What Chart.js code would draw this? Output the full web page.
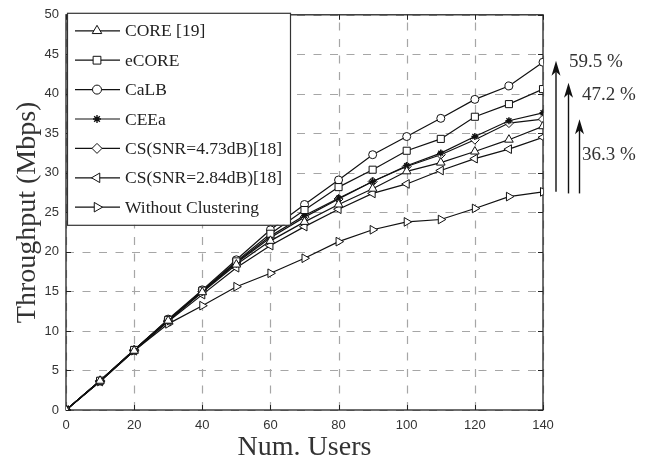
<!DOCTYPE html>
<html><head><meta charset="utf-8">
<script src="https://cdn.jsdelivr.net/npm/chart.js@4.4.0/dist/chart.umd.min.js"></script>
<style>html,body{margin:0;padding:0;background:#fff;}canvas{display:block;}</style>
</head><body>
<canvas id="c" width="653" height="462"></canvas>
<script>
// ---- data ----
const users = [0, 10, 20, 30, 40, 50, 60, 70, 80, 90, 100, 110, 120, 130, 140];
const coreRef    = [0, 3.7, 7.5, 11.3, 14.9, 18.4, 21.4, 23.8, 26.0, 28.0, 30.2, 31.3, 32.7, 34.2, 35.9];
const eCore      = [0, 3.7, 7.6, 11.4, 15.1, 18.8, 22.3, 25.3, 28.2, 30.4, 32.8, 34.3, 37.1, 38.7, 40.6];
const caLB       = [0, 3.7, 7.6, 11.5, 15.2, 19.0, 22.8, 26.0, 29.1, 32.3, 34.6, 36.9, 39.3, 41.0, 44.0];
const ceea       = [0, 3.7, 7.6, 11.4, 15.0, 18.7, 22.0, 24.6, 26.8, 28.9, 30.9, 32.5, 34.6, 36.6, 37.6];
const cs473      = [0, 3.7, 7.6, 11.3, 15.0, 18.6, 21.8, 24.4, 26.7, 28.9, 30.8, 32.3, 34.2, 36.3, 36.8];
const cs284      = [0, 3.6, 7.5, 11.2, 14.6, 18.0, 20.8, 23.2, 25.4, 27.4, 28.6, 30.3, 31.8, 33.0, 34.5];
const noCluster  = [0, 3.6, 7.5, 10.9, 13.2, 15.6, 17.3, 19.2, 21.3, 22.8, 23.8, 24.1, 25.5, 27.0, 27.6];
const seriesLabels = ['CORE [19]', 'eCORE', 'CaLB', 'CEEa', 'CS(SNR=4.73dB)[18]', 'CS(SNR=2.84dB)[18]', 'Without Clustering'];
const xTickValues = [0, 20, 40, 60, 80, 100, 120, 140];
const yTickValues = [0, 5, 10, 15, 20, 25, 30, 35, 40, 45, 50];
const gainLabels = ['59.5 %', '47.2 %', '36.3 %'];
const gainArrowTop = [44.2, 41.4, 36.8];
const gainArrowBase = [27.6, 27.4, 27.4];
const gainTextAt = [44.0, 39.9, 32.3];

// ---- styles ----
const markerStyles = [
  {pointStyle: 'triangle', radius: 5, rotation: 0},
  {pointStyle: 'rect', radius: 5, rotation: 0},
  {pointStyle: 'circle', radius: 4, rotation: 0},
  {pointStyle: 'star', radius: 3.5, rotation: 0, fill: '#111'},
  {pointStyle: 'rectRot', radius: 4.5, rotation: 0},
  {pointStyle: 'triangle', radius: 5, rotation: -90},
  {pointStyle: 'triangle', radius: 5, rotation: 90}
];
const seriesValues = [coreRef, eCore, caLB, ceea, cs473, cs284, noCluster];

const datasets = seriesValues.map((vals, i) => ({
  label: seriesLabels[i],
  data: users.map((u, k) => ({x: u, y: vals[k]})),
  borderColor: '#111',
  borderWidth: 1.2,
  pointStyle: markerStyles[i].pointStyle,
  pointRadius: markerStyles[i].radius,
  pointRotation: markerStyles[i].rotation,
  pointBackgroundColor: markerStyles[i].fill || '#fff',
  pointBorderColor: '#111',
  pointBorderWidth: markerStyles[i].pointStyle === 'star' ? 1.4 : 1,
  tension: 0,
  fill: false
}));

const serif = '"Liberation Serif", "DejaVu Serif", serif';
const sans = '"Liberation Sans", Arial, sans-serif';

const framePlugin = {
  id: 'frame',
  beforeDatasetsDraw(chart) {
    const {ctx, chartArea: a, scales} = chart;
    ctx.save();
    // dashed grid
    ctx.strokeStyle = '#a6a6a6';
    ctx.lineWidth = 1.2;
    ctx.setLineDash([8, 8.5]);
    scales.y.ticks.forEach(t => {
      const py = Math.round(scales.y.getPixelForValue(t.value)) + 0.5;
      ctx.beginPath(); ctx.moveTo(a.left, py); ctx.lineTo(a.right, py); ctx.stroke();
    });
    scales.x.ticks.forEach(t => {
      const px = Math.round(scales.x.getPixelForValue(t.value)) + 0.5;
      ctx.beginPath(); ctx.moveTo(px, a.bottom); ctx.lineTo(px, a.top); ctx.stroke();
    });
    ctx.setLineDash([]);
    // frame
    ctx.strokeStyle = '#222';
    ctx.lineWidth = 1.3;
    ctx.strokeRect(a.left, a.top, a.right - a.left, a.bottom - a.top);
    // inner ticks
    ctx.lineWidth = 1;
    ctx.beginPath();
    scales.x.ticks.forEach(t => {
      const px = Math.round(scales.x.getPixelForValue(t.value)) + 0.5;
      ctx.moveTo(px, a.bottom); ctx.lineTo(px, a.bottom - 5);
      ctx.moveTo(px, a.top); ctx.lineTo(px, a.top + 5);
    });
    scales.y.ticks.forEach(t => {
      const py = Math.round(scales.y.getPixelForValue(t.value)) + 0.5;
      ctx.moveTo(a.left, py); ctx.lineTo(a.left + 5, py);
      ctx.moveTo(a.right, py); ctx.lineTo(a.right - 5, py);
    });
    ctx.stroke();
    ctx.restore();
  }
};

const legendPlugin = {
  id: 'boxLegend',
  afterDatasetsDraw(chart) {
    const {ctx, chartArea: a} = chart;
    const bx = a.left + 1, by = a.top - 2, bw = 223, bh = 212;
    ctx.save();
    ctx.fillStyle = '#fff';
    ctx.fillRect(bx, by, bw, bh);
    ctx.strokeStyle = '#333';
    ctx.lineWidth = 1.2;
    ctx.strokeRect(bx + 0.5, by + 0.5, bw, bh);
    const ds = chart.data.datasets;
    ds.forEach((d, i) => {
      const y = by + 18 + i * 29.4;
      ctx.strokeStyle = '#111';
      ctx.lineWidth = 1.2;
      ctx.beginPath();
      ctx.moveTo(bx + 8, y); ctx.lineTo(bx + 53, y);
      ctx.stroke();
      ctx.fillStyle = d.pointBackgroundColor;
      ctx.strokeStyle = '#111';
      ctx.lineWidth = d.pointBorderWidth;
      Chart.helpers.drawPoint(ctx, {pointStyle: d.pointStyle, radius: d.pointRadius + 0.5, rotation: d.pointRotation, borderWidth: d.pointBorderWidth}, bx + 30, y);
      ctx.fillStyle = '#222';
      ctx.font = '17.5px ' + serif;
      ctx.textBaseline = 'middle';
      ctx.textAlign = 'left';
      ctx.fillText(d.label, bx + 58, y + 1);
    });
    ctx.restore();
  }
};

const gainPlugin = {
  id: 'gains',
  afterDraw(chart) {
    const {ctx, chartArea: a, scales} = chart;
    const xs = [a.right + 13, a.right + 25.5, a.right + 36.5];
    const textX = [a.right + 26, a.right + 39, a.right + 39];
    ctx.save();
    gainLabels.forEach((lab, i) => {
      const x = xs[i];
      const yTop = scales.y.getPixelForValue(gainArrowTop[i]);
      const yBase = scales.y.getPixelForValue(gainArrowBase[i]);
      ctx.strokeStyle = '#111';
      ctx.lineWidth = 1.4;
      ctx.beginPath();
      ctx.moveTo(x, yBase); ctx.lineTo(x, yTop + 10);
      ctx.stroke();
      ctx.fillStyle = '#111';
      ctx.beginPath();
      ctx.moveTo(x, yTop);
      ctx.lineTo(x - 4.5, yTop + 15);
      ctx.lineTo(x, yTop + 11);
      ctx.lineTo(x + 4.5, yTop + 15);
      ctx.closePath();
      ctx.fill();
      ctx.fillStyle = '#333';
      ctx.font = '19px ' + serif;
      ctx.textAlign = 'left';
      ctx.textBaseline = 'middle';
      ctx.fillText(lab, textX[i], scales.y.getPixelForValue(gainTextAt[i]));
    });
    ctx.restore();
  }
};

new Chart(document.getElementById('c'), {
  type: 'line',
  data: {datasets},
  options: {
    responsive: false,
    devicePixelRatio: 1,
    animation: false,
    layout: {padding: {left: 0, right: 110, top: 14, bottom: 0}},
    plugins: {legend: {display: false}, tooltip: {enabled: false}},
    scales: {
      x: {
        type: 'linear', min: 0, max: 140,
        afterBuildTicks(s) { s.ticks = xTickValues.map(v => ({value: v})); },
        afterFit(s) { s.height = 52; },
        ticks: {font: {family: sans, size: 13}, color: '#333', padding: 8, maxRotation: 0},
        grid: {display: false, drawTicks: false},
        border: {display: false},
        title: {display: true, text: 'Num. Users', font: {family: serif, size: 28, lineHeight: 1.0}, color: '#333', padding: {top: 0, bottom: 0}}
      },
      y: {
        type: 'linear', min: 0, max: 50,
        afterBuildTicks(s) { s.ticks = yTickValues.map(v => ({value: v})); },
        afterFit(s) { s.width = 66; },
        ticks: {font: {family: sans, size: 13}, color: '#333', padding: 7},
        grid: {display: false, drawTicks: false},
        border: {display: false},
        title: {display: true, text: 'Throughput (Mbps)', font: {family: serif, size: 28, lineHeight: 1.0}, color: '#333', padding: {top: 14, bottom: 0}}
      }
    }
  },
  plugins: [framePlugin, legendPlugin, gainPlugin]
});
</script>
</body></html>
